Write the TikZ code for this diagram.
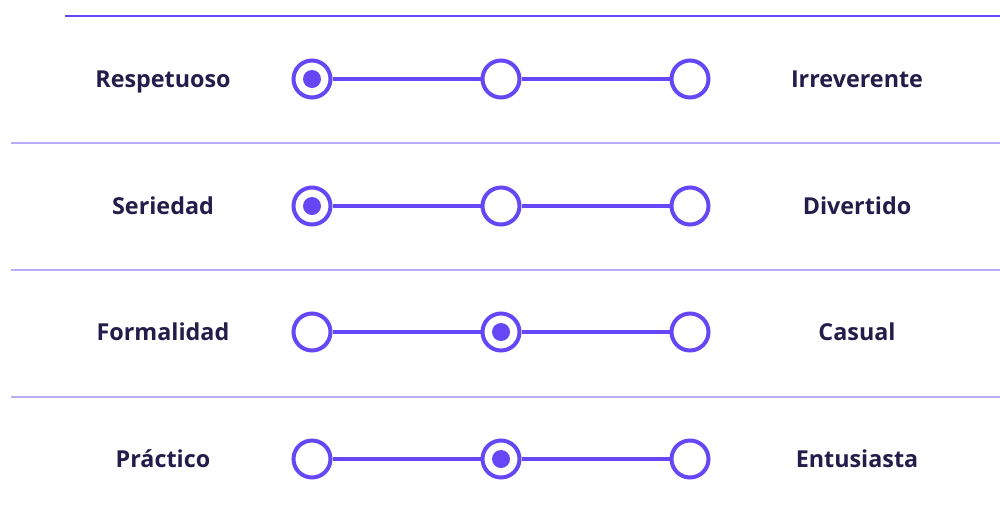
\documentclass[tikz,border=0pt]{standalone}
\usepackage{fontspec}
\setmainfont{Open Sans}
\usepackage{tikz}
\usetikzlibrary{positioning}
\definecolor{lila}{HTML}{6547F5}
\definecolor{tinte}{HTML}{241C4A}

\begin{document}
\begin{tikzpicture}[x=0.75pt, y=-0.75pt,
        punkt/.style={circle, draw=lila, line width=3pt, fill=white,
                      minimum size=27.75pt, inner sep=0pt},
        kern/.style={circle, fill=lila, minimum size=13.5pt, inner sep=0pt},
        etikett/.style={anchor=base, font=\fontsize{17.5}{21}\selectfont\bfseries, text=tinte},
        schiene/.style={line width=3pt, lila},
        trenner/.style={line width=1.2pt, lila!45}
      ]
      \useasboundingbox (0,0) rectangle (1000,515);

      % Linien oben und zwischen den Zeilen
      \draw[line width=1.2pt, lila] (65,16) -- (1000,16);
      \foreach \y in {143, 270, 397}
        \draw[trenner] (11,\y) -- (1000,\y);

      % Skalen
      \foreach \i/\y/\links/\rechts/\wahl in {1/79/Respetuoso/Irreverente/a,
                                              2/206/Seriedad/Divertido/a,
                                              3/332/Formalidad/Casual/b,
                                              4/459/Práctico/Entusiasta/b} {
        \node[punkt] (a\i) at (312,\y) {};
        \node[punkt] (b\i) at (501,\y) {};
        \node[punkt] (c\i) at (690,\y) {};
        \draw[schiene] (a\i) -- (b\i);
        \draw[schiene] (b\i) -- (c\i);
        \node[kern] (k\i) at (\wahl\i) {};
        \node[etikett] (l\i) at (163,\y+8) {\links};
        \node[etikett] (r\i) at (857,\y+8) {\rechts};
      }
    \end{tikzpicture}
\end{document}
